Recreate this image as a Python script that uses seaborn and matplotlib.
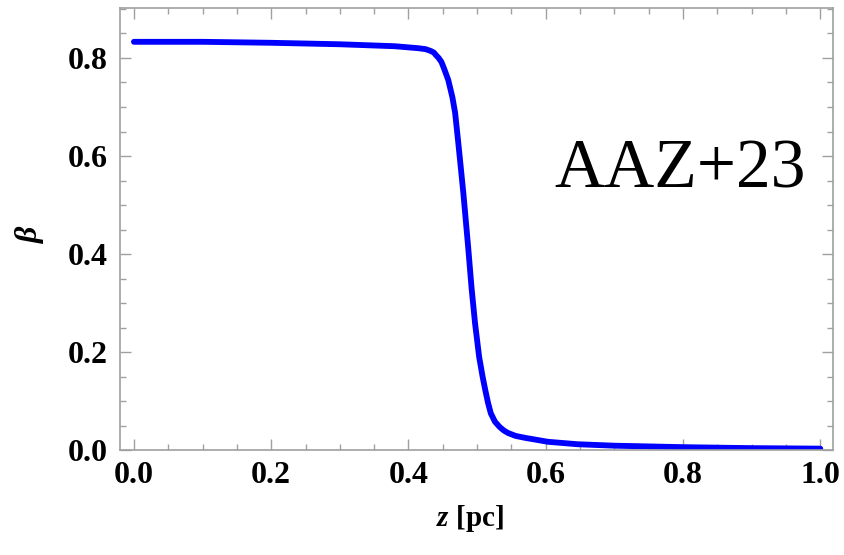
import pandas as pd
import matplotlib
matplotlib.use("Agg")
import matplotlib.pyplot as plt
import seaborn as sns
from matplotlib.ticker import MultipleLocator

# ----------------------------
# Data
# ----------------------------
z_pc = [0.0, 0.1, 0.2, 0.3, 0.38, 0.414, 0.425, 0.433, 0.437, 0.44, 0.444,
        0.448, 0.452, 0.458, 0.464, 0.468, 0.472, 0.476, 0.480, 0.487, 0.492,
        0.497, 0.503, 0.508, 0.512, 0.516, 0.520, 0.526, 0.533, 0.539, 0.545,
        0.556, 0.570, 0.603, 0.646, 0.70, 0.80, 0.90, 1.0]
beta = [0.833, 0.833, 0.831, 0.828, 0.824, 0.820, 0.818, 0.814, 0.811, 0.806,
        0.800, 0.792, 0.778, 0.755, 0.720, 0.688, 0.635, 0.580, 0.524, 0.414,
        0.330, 0.259, 0.190, 0.150, 0.122, 0.096, 0.075, 0.058, 0.047, 0.040,
        0.035, 0.029, 0.025, 0.017, 0.012, 0.009, 0.006, 0.004, 0.003]

x_ticks = [0.0, 0.2, 0.4, 0.6, 0.8, 1.0]
y_ticks = [0.0, 0.2, 0.4, 0.6, 0.8]
annotation = "AAZ+23"

df = pd.DataFrame({"z": z_pc, "beta": beta})

# ----------------------------
# Style
# ----------------------------
sns.set_style("ticks")
plt.rcParams["font.family"] = ["Liberation Serif", "DejaVu Serif"]
plt.rcParams["mathtext.fontset"] = "custom"
plt.rcParams["mathtext.it"] = "Liberation Serif:italic:bold"
plt.rcParams["mathtext.rm"] = "Liberation Serif:bold"
plt.rcParams["mathtext.bf"] = "Liberation Serif:bold"

fig = plt.figure(figsize=(8.45, 5.55), dpi=100)
ax = fig.add_axes([0.142, 0.189, 0.844, 0.7966])

sns.lineplot(data=df, x="z", y="beta", color="#0000ff", linewidth=4.2,
             ax=ax, sort=False, solid_capstyle="round",
             solid_joinstyle="round")

ax.set_xlim(-0.0203, 1.0188)
ax.set_ylim(0.0, 0.902)
ax.set_xticks(x_ticks)
ax.set_yticks(y_ticks)
ax.set_xticklabels([f"{t:.1f}" for t in x_ticks])
ax.set_yticklabels([f"{t:.1f}" for t in y_ticks])
ax.xaxis.set_minor_locator(MultipleLocator(0.05))
ax.yaxis.set_minor_locator(MultipleLocator(0.05))

grey = "#a0a0a0"
ax.tick_params(which="both", direction="in", top=True, right=True,
               color=grey, width=1.0, labelcolor="black")
ax.tick_params(which="major", length=8)
ax.tick_params(which="minor", length=4)
ax.tick_params(axis="x", which="major", pad=8, labelsize=23)
ax.tick_params(axis="y", which="major", pad=9, labelsize=23)
for lab in ax.get_xticklabels() + ax.get_yticklabels():
    lab.set_fontweight("bold")

for sp in ax.spines.values():
    sp.set_color(grey)
    sp.set_linewidth(1.2)

ax.set_xlabel("$z$ [pc]", fontsize=21, fontweight="bold", color="black")
ax.set_ylabel(r"$\beta$", fontsize=23, color="black")
ax.xaxis.set_label_coords(0.49, -0.154)
ax.xaxis.label.set_va("center")
ax.yaxis.set_label_coords(-0.127, 0.49)
ax.yaxis.label.set_va("center")

ax.text(0.612, 0.535, annotation, fontsize=50, ha="left", va="baseline",
        family=["Liberation Serif"], color="black")

plt.savefig("out.png", dpi=100)
plt.close()
